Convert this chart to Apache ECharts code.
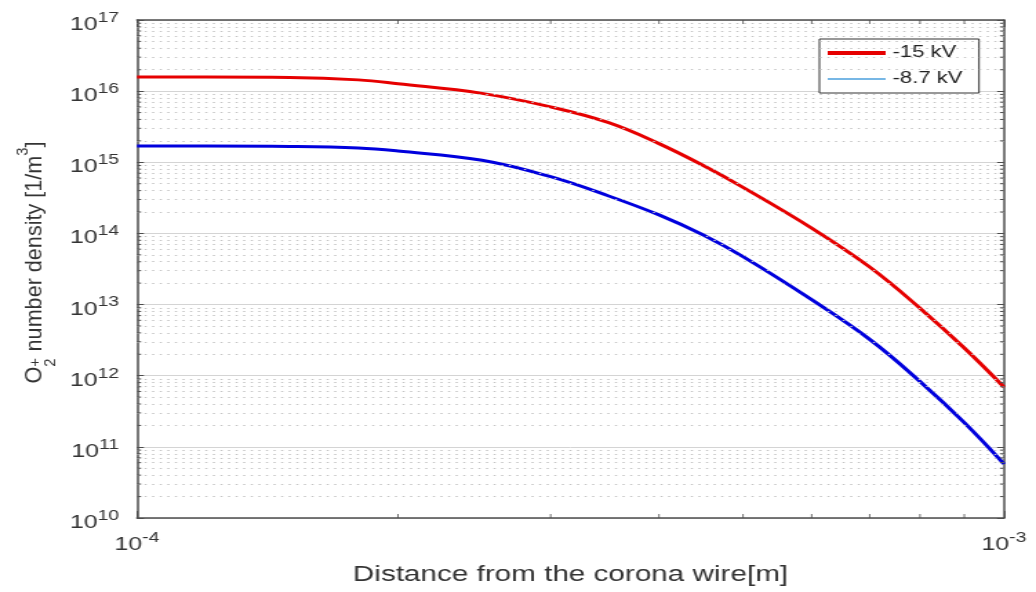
<!DOCTYPE html>
<html>
<head>
<meta charset="utf-8">
<script src="https://cdn.jsdelivr.net/npm/echarts@6/dist/echarts.min.js"></script>
<style>
  html, body { margin: 0; padding: 0; background: #fff; overflow: hidden; width: 1036px; height: 592px; }
  /* the figure is drawn narrow and stretched horizontally to get its wide lettering */
  #chart { width: 751px; height: 592px; transform: scaleX(1.3795); transform-origin: 0 0; }
</style>
</head>
<body>
<div id="chart"></div>
<script>
// Distance from the corona wire [m]
const distance = [1.0e-4, 1.2e-4, 1.5e-4, 1.8e-4, 2.0e-4, 2.5e-4, 3.0e-4, 3.5e-4,
                  4.0e-4, 4.5e-4, 5.0e-4, 6.0e-4, 7.0e-4, 8.0e-4, 9.0e-4, 1.0e-3];
// O2+ number density [1/m^3]
const density15kV = [1.58e16, 1.58e16, 1.56e16, 1.44e16, 1.27e16, 9.3e15, 6.0e15, 3.6e15,
                     1.83e15, 9.0e14, 4.45e14, 1.19e14, 3.37e13, 8.9e12, 2.45e12, 6.9e11];
const density8p7kV = [1.69e15, 1.69e15, 1.67e15, 1.59e15, 1.44e15, 1.07e15, 6.27e14, 3.36e14,
                      1.82e14, 9.5e13, 4.71e13, 1.17e13, 3.24e12, 8.3e11, 2.19e11, 5.74e10];
const seriesNames = ['-15 kV', '-8.7 kV'];
const xRange = [1e-4, 1e-3];
const yRange = [1e10, 1e17];
const minorSteps = [2, 3, 4, 5, 6, 7, 8, 9];

const FONT = '"Liberation Sans", Arial, Helvetica, sans-serif';
const TEXT = '#333333';
const AXIS = '#4d4d4d';
const RED = '#e60000';
const BLUE = '#0000dd';
const LEGEND_BLUE = '#4a9fdc';

// minor grid values inside each decade
const xMinor = [];
for (let e = Math.round(Math.log10(xRange[0])); e < Math.round(Math.log10(xRange[1])); e++) {
  minorSteps.forEach(k => xMinor.push(k * Math.pow(10, e)));
}
const yMinor = [];
for (let e = Math.round(Math.log10(yRange[0])); e < Math.round(Math.log10(yRange[1])); e++) {
  minorSteps.forEach(k => yMinor.push(k * Math.pow(10, e)));
}

const powerLabel = v => '{b|10}{s|' + Math.round(Math.log10(v)) + '}';
const powerRich = {
  b: { fontSize: 18, fontFamily: FONT, color: TEXT, lineHeight: 23, verticalAlign: 'bottom' },
  s: { fontSize: 14, fontFamily: FONT, color: TEXT, verticalAlign: 'top' }
};

const chart = echarts.init(document.getElementById('chart'), null, { renderer: 'canvas' });

const option = {
  animation: false,
  backgroundColor: '#ffffff',
  grid: { left: 99.3, right: 23.2, top: 20, bottom: 74, show: false },
  legend: {
    orient: 'vertical',
    left: 594, top: 39,
    padding: [6, 12, 6, 6],
    itemWidth: 42, itemHeight: 16, itemGap: 10,
    symbolKeepAspect: true,
    borderColor: '#333', borderWidth: 1, backgroundColor: '#ffffff',
    selectedMode: false,
    textStyle: { fontSize: 16, fontFamily: FONT, color: '#222' },
    data: [
      // plain line swatches: a thick red bar and a thin light-blue one
      { name: seriesNames[0], icon: 'path://M0,0H100V9.5H0Z', itemStyle: { color: RED } },
      { name: seriesNames[1], icon: 'path://M0,0H100V3.6H0Z', itemStyle: { color: LEGEND_BLUE } }
    ]
  },
  xAxis: [
    {
      type: 'log', logBase: 10, min: xRange[0], max: xRange[1], position: 'bottom',
      name: 'Distance from the corona wire[m]', nameLocation: 'middle', nameGap: 46,
      nameTextStyle: { fontSize: 21.5, fontFamily: FONT, color: TEXT },
      axisLine: { show: true, lineStyle: { color: AXIS, width: 1.5 } },
      axisTick: { show: true, inside: true, length: 7, lineStyle: { color: AXIS } },
      axisLabel: { margin: 13.5, formatter: powerLabel, rich: powerRich, showMinLabel: true, showMaxLabel: true },
      splitLine: { show: false }
    },
    {
      type: 'log', logBase: 10, min: xRange[0], max: xRange[1], position: 'top',
      axisLine: { show: true, lineStyle: { color: AXIS, width: 1.5 } },
      axisTick: { show: true, inside: true, length: 7, lineStyle: { color: AXIS } },
      axisLabel: { show: false },
      splitLine: { show: false }
    }
  ],
  yAxis: [
    {
      type: 'log', logBase: 10, min: yRange[0], max: yRange[1], position: 'left',
      axisLine: { show: true, lineStyle: { color: AXIS, width: 1.5 } },
      axisTick: { show: true, inside: true, length: 5, lineStyle: { color: AXIS } },
      axisLabel: { margin: 13, formatter: powerLabel, rich: powerRich, padding: [5, 0, 0, 0] },
      splitLine: { show: true, lineStyle: { color: '#d4d4d4', width: 1 } }
    },
    {
      type: 'log', logBase: 10, min: yRange[0], max: yRange[1], position: 'right',
      axisLine: { show: true, lineStyle: { color: AXIS, width: 1.5 } },
      axisTick: { show: true, inside: true, length: 5, lineStyle: { color: AXIS } },
      axisLabel: { show: false },
      splitLine: { show: false }
    }
  ],
  series: [
    {
      // dotted minor grid
      name: 'minor-grid', type: 'line', data: [], z: 1, silent: true,
      markLine: {
        silent: true, symbol: ['none', 'none'], animation: false,
        label: { show: false },
        emphasis: { disabled: true },
        data: [
          ...xMinor.map(v => ({ xAxis: v, lineStyle: { color: '#bdbdbd', width: 0.8, type: [2, 5.5] } })),
          ...yMinor.map(v => ({ yAxis: v, lineStyle: { color: '#c4c4c4', width: 1, type: [1.5, 4] } }))
        ]
      }
    },
    {
      name: seriesNames[0], type: 'line', z: 4,
      data: distance.map((x, i) => [x, density15kV[i]]),
      symbol: 'none', smooth: 0.4,
      lineStyle: { color: RED, width: 3 }, itemStyle: { color: RED }
    },
    {
      name: seriesNames[1], type: 'line', z: 4,
      data: distance.map((x, i) => [x, density8p7kV[i]]),
      symbol: 'none', smooth: 0.4,
      lineStyle: { color: BLUE, width: 3 }, itemStyle: { color: BLUE }
    }
  ]
};
chart.setOption(option);

// ---- minor ticks on all four sides and the rotated y-axis title ----
const measureCtx = document.createElement('canvas').getContext('2d');
function textWidth(str, size) {
  measureCtx.font = size + 'px ' + FONT;
  return measureCtx.measureText(str).width;
}

const toPxX = v => chart.convertToPixel({ xAxisIndex: 0 }, v);
const toPxY = v => chart.convertToPixel({ yAxisIndex: 0 }, v);
const plotLeft = toPxX(xRange[0]), plotRight = toPxX(xRange[1]);
const plotTop = toPxY(yRange[1]), plotBottom = toPxY(yRange[0]);

const elements = [];
const addTick = (x1, y1, x2, y2, w) => elements.push({
  type: 'line', silent: true, z: 10,
  shape: { x1, y1, x2, y2 },
  style: { stroke: AXIS, lineWidth: w }
});
xMinor.forEach(v => {
  const x = toPxX(v);
  addTick(x, plotBottom, x, plotBottom - 4, 0.8);
  addTick(x, plotTop, x, plotTop + 4, 0.8);
});
yMinor.forEach(v => {
  const y = toPxY(v);
  addTick(plotLeft, y, plotLeft + 3, y, 1);
  addTick(plotRight, y, plotRight - 3, y, 1);
});

// y-axis title: O with stacked sub/superscript, rotated to read bottom-to-top
const fsMain = 16, fsSmall = 11;
const pieces = [];
let cursor = 0;
function put(str, size, baseline) {
  pieces.push({
    type: 'text', x: cursor, y: baseline - 0.31 * size, silent: true,
    style: { text: str, fontSize: size, fontFamily: FONT, fill: TEXT,
             align: 'left', verticalAlign: 'middle', textAlign: 'left', textVerticalAlign: 'middle' }
  });
  return textWidth(str, size);
}
cursor += put('O', fsMain, 0);
const wPlus = put('+', fsSmall, -1.5);
const wTwo = put('2', fsSmall, 9.5);
cursor += Math.max(wPlus, wTwo) + 0.5;
cursor += put(' number density [1/m', fsMain, 0);
cursor += put('3', fsSmall, -10.5);
cursor += put(']', fsMain, 0);
const along = 1.35;
elements.push({
  type: 'group', x: 30.4, y: 262.5 + cursor * along / 2,
  rotation: Math.PI / 2, scaleX: along, children: pieces
});

chart.setOption({ graphic: { elements } });
</script>
</body>
</html>
